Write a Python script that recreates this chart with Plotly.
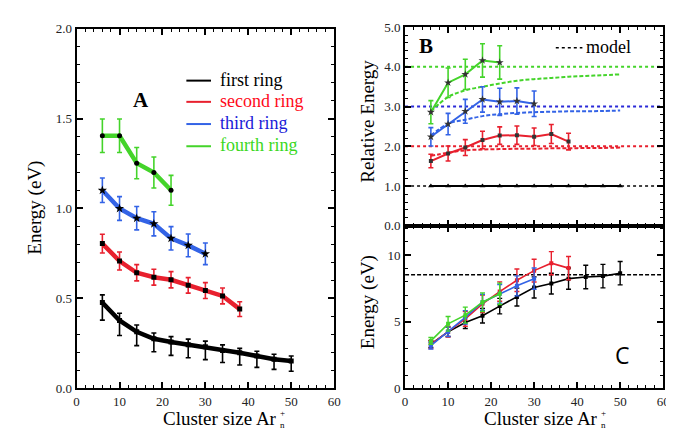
import plotly.graph_objects as go

# ---------------- data ----------------
x_all = [6, 10, 14, 18, 22, 26, 30, 34, 38, 42, 46, 50]
x_second = x_all[:9]
x_third = x_all[:7]
x_fourth = x_all[:5]
x_span = [0, 60]

# Panel A: energy (eV)
first_y = [0.477, 0.378, 0.315, 0.276, 0.258, 0.243, 0.232, 0.211, 0.198, 0.180, 0.162, 0.153]
first_up = [0.043, 0.040, 0.038, 0.032, 0.030, 0.031, 0.031, 0.031, 0.025, 0.027, 0.028, 0.027]
first_dn = [0.097, 0.084, 0.077, 0.072, 0.074, 0.072, 0.072, 0.067, 0.068, 0.063, 0.056, 0.057]
second_y = [0.805, 0.708, 0.643, 0.618, 0.604, 0.573, 0.544, 0.514, 0.441]
second_err = [0.052, 0.050, 0.045, 0.044, 0.045, 0.043, 0.044, 0.044, 0.041]
third_y = [1.101, 1.000, 0.946, 0.915, 0.834, 0.795, 0.748]
third_err = [0.068, 0.066, 0.065, 0.067, 0.065, 0.063, 0.060]
fourth_y = [1.404, 1.404, 1.252, 1.200, 1.101]
fourth_err = [0.093, 0.093, 0.087, 0.086, 0.083]

# Panel B: relative energy
rel_first = [1.0, 1.0, 1.0, 1.0, 1.0, 1.0, 1.0, 1.0, 1.0, 1.0, 1.0, 1.0]
rel_second = [1.63, 1.82, 1.97, 2.16, 2.27, 2.28, 2.24, 2.31, 2.12]
rel_second_err = [0.17, 0.19, 0.20, 0.22, 0.22, 0.23, 0.22, 0.24, 0.21]
rel_third = [2.24, 2.56, 2.88, 3.18, 3.12, 3.14, 3.07]
rel_third_err = [0.23, 0.27, 0.30, 0.32, 0.34, 0.33, 0.32]
rel_fourth = [2.86, 3.60, 3.81, 4.16, 4.11]
rel_fourth_err = [0.29, 0.37, 0.38, 0.42, 0.42]
model_second = [1.76, 1.84, 1.90, 1.92, 1.93, 1.94, 1.94, 1.95, 1.95, 1.96, 1.96, 1.97]
model_third = [2.27, 2.57, 2.67, 2.76, 2.81, 2.84, 2.86, 2.87, 2.88, 2.88, 2.89, 2.90]
model_fourth = [2.88, 3.24, 3.41, 3.50, 3.58, 3.65, 3.69, 3.72, 3.75, 3.77, 3.79, 3.81]
limit_levels = [1.0, 2.0, 3.0, 4.0]

# Panel C: absolute energy (eV)
abs_first = [3.33, 4.25, 4.95, 5.46, 6.18, 6.86, 7.58, 7.87, 8.24, 8.36, 8.43, 8.65]
abs_first_err = [0.25, 0.35, 0.45, 0.55, 0.58, 0.67, 0.79, 0.78, 0.80, 0.88, 0.88, 0.88]
abs_second = [3.30, 4.25, 5.22, 6.35, 7.27, 8.12, 8.84, 9.40, 9.03]
abs_second_err = [0.30, 0.40, 0.55, 0.65, 0.73, 0.84, 0.85, 0.87, 0.87]
abs_third = [3.21, 4.25, 5.34, 6.47, 7.10, 7.70, 8.24]
abs_third_err = [0.25, 0.35, 0.50, 0.60, 0.70, 0.75, 0.80]
abs_fourth = [3.57, 4.85, 5.50, 6.47, 7.10]
abs_fourth_err = [0.25, 0.55, 0.60, 0.70, 0.80]
model_abs = 8.53

legend_names = ["first ring", "second ring", "third ring", "fourth ring"]

# ---------------- style ----------------
W, H = 674, 429
BLACK = "#000000"
RED = "#e8202e"
BLUE = "#3363e6"
GREEN = "#44d42a"
TXT_RED = "#ff0a1a"
TXT_BLUE = "#1a1ad8"
TXT_GREEN = "#3ad81e"
SERIF = "Liberation Serif"


def px(x):
    return x / W


def py(y):
    return 1 - y / H


fig = go.Figure()


def err(arr, col, up=None, th=1.6, w=2.5):
    if up is None:
        return dict(type="data", array=arr, color=col, thickness=th, width=w)
    return dict(type="data", symmetric=False, array=up, arrayminus=arr,
                color=col, thickness=th, width=w)


# ---- Panel A ----
fig.add_trace(go.Scatter(x=x_all, y=first_y, mode="lines+markers", xaxis="x", yaxis="y",
                         line=dict(color=BLACK, width=4.5),
                         marker=dict(symbol="square", size=5, color=BLACK),
                         error_y=err(first_dn, BLACK, first_up)))
fig.add_trace(go.Scatter(x=x_second, y=second_y, mode="lines+markers", xaxis="x", yaxis="y",
                         line=dict(color=RED, width=4.5),
                         marker=dict(symbol="square", size=5, color=BLACK),
                         error_y=err(second_err, RED)))
fig.add_trace(go.Scatter(x=x_third, y=third_y, mode="lines+markers", xaxis="x", yaxis="y",
                         line=dict(color=BLUE, width=4.5),
                         marker=dict(symbol="star", size=7, color=BLACK),
                         error_y=err(third_err, BLUE)))
fig.add_trace(go.Scatter(x=x_fourth, y=fourth_y, mode="lines+markers", xaxis="x", yaxis="y",
                         line=dict(color=GREEN, width=4.5),
                         marker=dict(symbol="circle", size=5, color=BLACK),
                         error_y=err(fourth_err, GREEN)))

# ---- Panel B ----
for lvl, col in zip(limit_levels, ["#444444", RED, "#2a2ad8", GREEN]):
    fig.add_trace(go.Scatter(x=x_span, y=[lvl, lvl], mode="lines", xaxis="x2", yaxis="y2",
                             line=dict(color=col, width=2, dash="dot")))
for yy, col in zip([model_second, model_third, model_fourth], [RED, BLUE, GREEN]):
    fig.add_trace(go.Scatter(x=x_all, y=yy, mode="lines", xaxis="x2", yaxis="y2",
                             line=dict(color=col, width=2, dash="4px,2px", shape="spline")))
fig.add_trace(go.Scatter(x=x_all, y=rel_first, mode="lines+markers", xaxis="x2", yaxis="y2",
                         line=dict(color=BLACK, width=2),
                         marker=dict(symbol="triangle-up", size=5, color=BLACK)))
fig.add_trace(go.Scatter(x=x_second, y=rel_second, mode="lines+markers", xaxis="x2", yaxis="y2",
                         line=dict(color=RED, width=2),
                         marker=dict(symbol="square", size=4, color="#333333"),
                         error_y=err(rel_second_err, RED)))
fig.add_trace(go.Scatter(x=x_third, y=rel_third, mode="lines+markers", xaxis="x2", yaxis="y2",
                         line=dict(color=BLUE, width=2),
                         marker=dict(symbol="star", size=6, color="#333333"),
                         error_y=err(rel_third_err, BLUE)))
fig.add_trace(go.Scatter(x=x_fourth, y=rel_fourth, mode="lines+markers", xaxis="x2", yaxis="y2",
                         line=dict(color=GREEN, width=2),
                         marker=dict(symbol="star", size=6, color="#333333"),
                         error_y=err(rel_fourth_err, GREEN)))

# ---- Panel C ----
fig.add_trace(go.Scatter(x=x_span, y=[model_abs, model_abs], mode="lines", xaxis="x3", yaxis="y3",
                         line=dict(color=BLACK, width=1.5, dash="4px,2px")))
for xx, yy, ee, col in [(x_all, abs_first, abs_first_err, BLACK),
                        (x_second, abs_second, abs_second_err, RED),
                        (x_third, abs_third, abs_third_err, BLUE),
                        (x_fourth, abs_fourth, abs_fourth_err, GREEN)]:
    fig.add_trace(go.Scatter(x=xx, y=yy, mode="lines+markers", xaxis="x3", yaxis="y3",
                             line=dict(color=col, width=1.6),
                             marker=dict(symbol="square", size=4, color=col),
                             error_y=err(ee, col, th=1.4, w=2.5)))

# ---------------- axes ----------------
tickfont = dict(family=SERIF, size=13, color="#222222")


def axis(domain, rng, dtick, mdtick, fmt=None, labels=True, anchor=None):
    d = dict(domain=domain, range=rng, showline=True, linecolor=BLACK, linewidth=2,
             mirror="allticks", ticks="inside", ticklen=6, tickwidth=1.6, tickcolor=BLACK,
             dtick=dtick, tick0=0, showgrid=False, zeroline=False, tickfont=tickfont,
             showticklabels=labels,
             minor=dict(dtick=mdtick, ticks="inside", ticklen=3, tickwidth=1.2,
                        tickcolor=BLACK, showgrid=False))
    if fmt:
        d["tickformat"] = fmt
    if anchor:
        d["anchor"] = anchor
    return d


xA = [px(66.6), px(328)]
xBC = [px(400), px(662)]
fig.update_layout(
    xaxis=axis(xA, [0, 60], 10, 2, anchor="y"),
    yaxis=axis([py(387), py(14)], [0, 2.0], 0.5, 0.1, ".1f", anchor="x"),
    xaxis2=axis(xBC, [0, 60], 10, 2, labels=False, anchor="y2"),
    yaxis2=axis([py(218.5), py(12.5)], [0, 5.0], 1, 0.2, ".1f", anchor="x2"),
    xaxis3=axis(xBC, [0, 60], 10, 2, anchor="y3"),
    yaxis3=axis([py(387), py(218.5)], [0, 12.2], 5, 1, anchor="x3"),
)

# ---------------- text ----------------
ann = []
title_font = dict(family=SERIF, size=19, color=BLACK)
small_font = dict(family=SERIF, size=9, color=BLACK)
for right in (272, 598):
    ann.append(dict(x=px(right), y=py(418), text="Cluster size Ar", xanchor="right", font=title_font))
    ann.append(dict(x=px(right), y=py(419), text="+<br>n", xanchor="left", align="left",
                    font=small_font, borderpad=0))
ann.append(dict(x=px(24), y=py(200), text="Energy (eV)", textangle=-90, font=title_font))
ann.append(dict(x=px(362), y=py(110), text="Relative Energy", textangle=-90, font=title_font))
ann.append(dict(x=px(362), y=py(298), text="Energy (eV)", textangle=-90, font=title_font))
ann.append(dict(x=px(132), y=py(88), text="<b>A</b>", font=dict(family=SERIF, size=21, color=BLACK)))
ann.append(dict(x=px(421), y=py(32), text="<b>B</b>", font=dict(family=SERIF, size=21, color=BLACK)))
ann.append(dict(x=px(621), y=py(352), text="C", font=dict(family="Open Sans", size=23, color=BLACK)))
ann.append(dict(x=px(582), y=py(33), text="model", xanchor="left",
                font=dict(family=SERIF, size=18, color=BLACK)))

shapes = [dict(type="line", xref="paper", yref="paper", x0=px(553), x1=px(580),
               y0=py(34), y1=py(34), line=dict(color=BLACK, width=1.6, dash="dot"))]
leg_rows = [68, 90, 113, 136]
for name, lc, tc, r in zip(legend_names, [BLACK, RED, BLUE, GREEN],
                           [BLACK, TXT_RED, TXT_BLUE, TXT_GREEN], leg_rows):
    shapes.append(dict(type="line", xref="paper", yref="paper", x0=px(178), x1=px(203),
                       y0=py(r), y1=py(r), line=dict(color=lc, width=2)))
    ann.append(dict(x=px(210), y=py(r - 1), text=name, xanchor="left",
                    font=dict(family=SERIF, size=18, color=tc)))

for a in ann:
    a.update(xref="paper", yref="paper", showarrow=False)
    a.setdefault("xanchor", "center")
    a.setdefault("yanchor", "middle")

fig.update_layout(width=W, height=H, margin=dict(l=0, r=0, t=0, b=0),
                  paper_bgcolor="white", plot_bgcolor="white", showlegend=False,
                  annotations=ann, shapes=shapes)

fig.write_html("out.html")
